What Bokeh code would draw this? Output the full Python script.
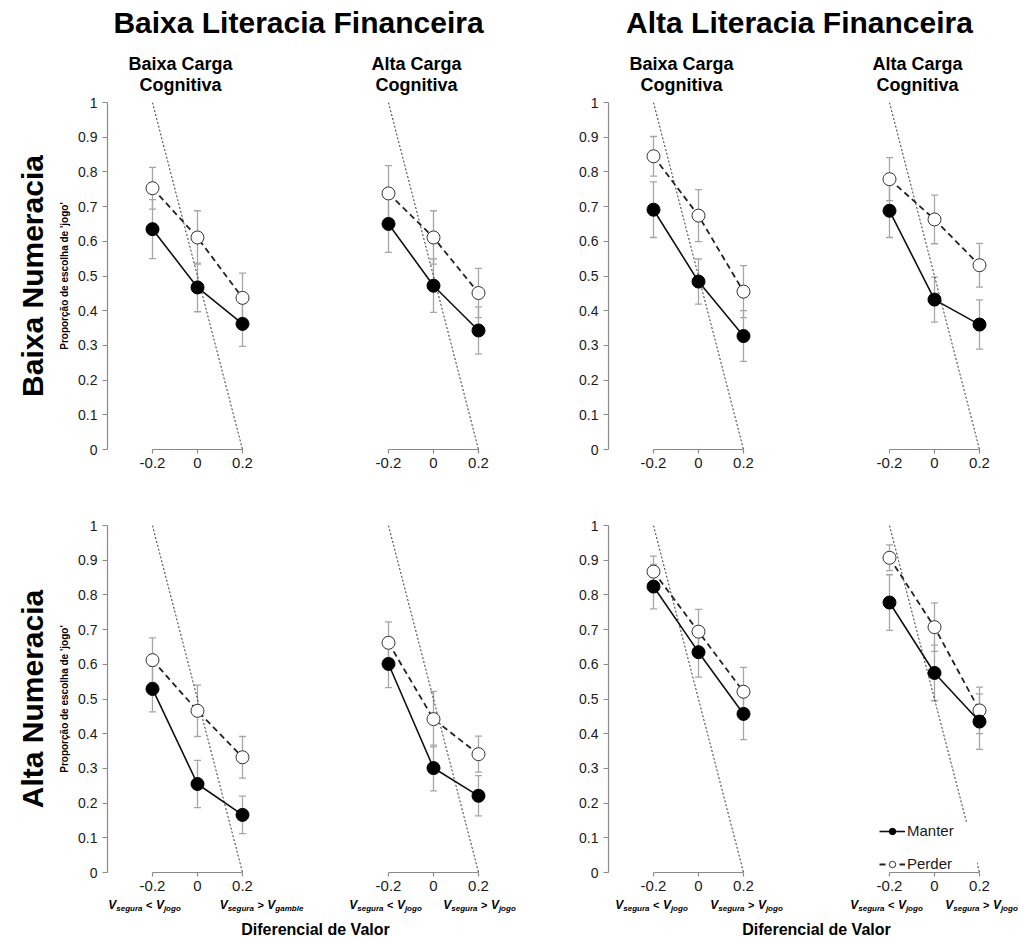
from bokeh.plotting import figure
from bokeh.models import (Range1d, FixedTicker, Whisker, TeeHead, ColumnDataSource,
                          Legend, LegendItem, Title)
from bokeh.layouts import column, row
from bokeh.core.properties import value
from bokeh.embed import file_html
from bokeh.resources import INLINE

# ---------------- data ----------------
x_levels = [-0.2, 0.0, 0.2]
x_tick_labels = ["-0.2", "0", "0.2"]
y_ticks = [0, 0.1, 0.2, 0.3, 0.4, 0.5, 0.6, 0.7, 0.8, 0.9, 1]
y_tick_labels = ["0", "0.1", "0.2", "0.3", "0.4", "0.5", "0.6", "0.7", "0.8", "0.9", "1"]
ref_x = [-0.2, 0.2]
ref_y = [1.0, 0.0]

lit_titles = ["Baixa Literacia Financeira", "Alta Literacia Financeira"]
carga_line1 = ["Baixa Carga", "Alta Carga"]
carga_line2 = ["Cognitiva", "Cognitiva"]
num_titles = ["Baixa Numeracia", "Alta Numeracia"]
series_names = ["Manter", "Perder"]
y_axis_title = "Proporção de escolha de 'jogo'"
x_axis_title = "Diferencial de Valor"

vlab_left_parts = ["V", "segura", "<", "V", "jogo"]
vlab_right_parts_first = ["V", "segura", ">", "V", "gamble"]
vlab_right_parts = ["V", "segura", ">", "V", "jogo"]
piece_kinds = ["main", "sub", "op", "main", "sub"]

# Baixa Numeracia row
manter_bn_bl_bc = [0.635, 0.467, 0.362]
manter_se_bn_bl_bc = [0.085, 0.070, 0.065]
perder_bn_bl_bc = [0.753, 0.611, 0.437]
perder_se_bn_bl_bc = [0.060, 0.077, 0.071]

manter_bn_bl_ac = [0.650, 0.472, 0.343]
manter_se_bn_bl_ac = [0.082, 0.077, 0.068]
perder_bn_bl_ac = [0.738, 0.611, 0.451]
perder_se_bn_bl_ac = [0.080, 0.077, 0.071]

manter_bn_al_bc = [0.691, 0.484, 0.327]
manter_se_bn_al_bc = [0.080, 0.065, 0.073]
perder_bn_al_bc = [0.845, 0.674, 0.455]
perder_se_bn_al_bc = [0.057, 0.075, 0.075]

manter_bn_al_ac = [0.688, 0.432, 0.360]
manter_se_bn_al_ac = [0.077, 0.065, 0.071]
perder_bn_al_ac = [0.779, 0.663, 0.531]
perder_se_bn_al_ac = [0.062, 0.070, 0.063]

# Alta Numeracia row
manter_an_bl_bc = [0.529, 0.255, 0.166]
manter_se_an_bl_bc = [0.066, 0.068, 0.054]
perder_an_bl_bc = [0.612, 0.466, 0.332]
perder_se_an_bl_bc = [0.064, 0.074, 0.060]

manter_an_bl_ac = [0.601, 0.301, 0.221]
manter_se_an_bl_ac = [0.068, 0.066, 0.058]
perder_an_bl_ac = [0.662, 0.442, 0.341]
perder_se_an_bl_ac = [0.060, 0.080, 0.052]

manter_an_al_bc = [0.824, 0.635, 0.457]
manter_se_an_al_bc = [0.064, 0.072, 0.074]
perder_an_al_bc = [0.867, 0.694, 0.521]
perder_se_an_al_bc = [0.045, 0.064, 0.070]

manter_an_al_ac = [0.778, 0.575, 0.435]
manter_se_an_al_ac = [0.080, 0.080, 0.080]
perder_an_al_ac = [0.907, 0.707, 0.467]
perder_se_an_al_ac = [0.037, 0.070, 0.067]

# ---------------- layout constants ----------------
SX = 225.0          # px per x unit
X0 = -0.4
FRAME_W = 146
FRAME_H = 347
X1 = X0 + FRAME_W / SX
BORDER_L = [107, 90, 89, 90]
BORDER_R = [0, 30, 0, 30]
BORDER_T = [6, 36]
BORDER_B = [40, 27]
HEADER_H = 96
FOOTER_H = 38
FONT = "Liberation Sans"
AXIS_GRAY = "#8a8a8a"
ERR_GRAY = "#a6a6a6"
LABEL_COLOR = "#1a1a1a"

frame_lefts = []
acc = 0
for c in range(4):
    frame_lefts.append(acc + BORDER_L[c])
    acc += BORDER_L[c] + FRAME_W + BORDER_R[c]
TOTAL_W = acc

CW = {" ": .278, "<": .584, ">": .584, "V": .667, "a": .556, "b": .611, "e": .556,
      "g": .611, "j": .278, "l": .278, "m": .889, "o": .611, "r": .389, "s": .556, "u": .611}
KIND_STYLE = {"main": (12, "bold italic", 0), "sub": (8, "bold italic", 4), "op": (11, "bold", 0)}
OP_PAD = 3.5
V_Y = 5
VSHIFT_LEFT = [-8, -3, -2, -3]
VSHIFT_RIGHT = [19, 1, 3, 2]


def style_axes(p, show_y, ylabel):
    xa = p.xaxis[0]
    xa.ticker = FixedTicker(ticks=x_levels)
    xa.major_label_overrides = {t: l for t, l in zip(x_levels, x_tick_labels)}
    xa.bounds = (x_levels[0], x_levels[-1])
    for ax in (p.xaxis[0], p.yaxis[0]):
        ax.axis_line_color = AXIS_GRAY
        ax.axis_line_width = 1.2
        ax.major_tick_line_color = AXIS_GRAY
        ax.major_tick_line_width = 1.2
        ax.major_tick_in = 0
        ax.major_tick_out = 5
        ax.minor_tick_line_color = None
        ax.major_label_text_font = FONT
        ax.major_label_text_color = LABEL_COLOR
    xa.major_tick_out = 4
    xa.major_label_text_font_size = "15px"
    xa.major_label_standoff = 4
    ya = p.yaxis[0]
    ya.ticker = FixedTicker(ticks=y_ticks)
    ya.major_label_overrides = {t: l for t, l in zip(y_ticks, y_tick_labels)}
    ya.bounds = (0, 1)
    ya.major_label_text_font_size = "14px"
    ya.major_label_standoff = 5
    if not show_y:
        ya.visible = False
    if ylabel:
        ya.axis_label = y_axis_title
        ya.axis_label_text_font = FONT
        ya.axis_label_text_font_size = "10px"
        ya.axis_label_text_font_style = "bold"
        ya.axis_label_text_color = "black"
        ya.axis_label_standoff = 5


def make_panel(ri, ci, m, mse, q, qse):
    p = figure(frame_width=FRAME_W, frame_height=FRAME_H,
               x_range=Range1d(X0, X1), y_range=Range1d(0, 1),
               output_backend="svg", toolbar_location=None, title_location=None,
               min_border_left=BORDER_L[ci], min_border_right=BORDER_R[ci],
               min_border_top=BORDER_T[ri], min_border_bottom=BORDER_B[ri],
               background_fill_color="white", border_fill_color="white")
    p.outline_line_color = None
    p.xgrid.visible = False
    p.ygrid.visible = False
    style_axes(p, show_y=(ci % 2 == 0), ylabel=(ci == 0))

    # diagonal reference
    p.line(ref_x, ref_y, line_color="#333333", line_width=1, line_dash="2 2")

    src_m = ColumnDataSource(dict(x=x_levels, y=m,
                                  lo=[a - b for a, b in zip(m, mse)],
                                  hi=[a + b for a, b in zip(m, mse)]))
    src_q = ColumnDataSource(dict(x=x_levels, y=q,
                                  lo=[a - b for a, b in zip(q, qse)],
                                  hi=[a + b for a, b in zip(q, qse)]))
    for src in (src_q, src_m):
        w = Whisker(source=src, base="x", upper="hi", lower="lo",
                    line_color=ERR_GRAY, line_width=1.3,
                    upper_head=TeeHead(size=7, line_color=ERR_GRAY, line_width=1.3),
                    lower_head=TeeHead(size=7, line_color=ERR_GRAY, line_width=1.3))
        p.add_layout(w)

    q_line = p.line("x", "y", source=src_q, line_color="#222222", line_width=1.8, line_dash="6 4")
    q_pts = p.scatter("x", "y", source=src_q, size=13, fill_color="white",
                      line_color="#333333", line_width=1)
    m_line = p.line("x", "y", source=src_m, line_color="#111111", line_width=1.6)
    m_pts = p.scatter("x", "y", source=src_m, size=13, fill_color="black", line_color="black")

    if ci == 0:
        p.add_layout(Title(text=num_titles[ri], align="center", text_font=FONT,
                           text_font_size="30px", text_font_style="bold",
                           text_color="black", standoff=16), "left")
    if ri == 1 and ci == 3:
        legend = Legend(items=[LegendItem(label=series_names[0], renderers=[m_line, m_pts]),
                               LegendItem(label=series_names[1], renderers=[q_line, q_pts])],
                        location=(35, 0), margin=0, padding=2, spacing=16,
                        glyph_width=26, glyph_height=16, label_height=16, label_width=70,
                        label_standoff=2, label_text_font=FONT,
                        label_text_font_size="15px", label_text_color=LABEL_COLOR,
                        border_line_color=None, background_fill_color="white",
                        background_fill_alpha=1.0)
        p.add_layout(legend)
    return p


def blank(width, height):
    p = figure(width=width, height=height, x_range=Range1d(0, width), y_range=Range1d(height, 0),
               output_backend="svg", toolbar_location=None, title_location=None,
               x_axis_type=None, y_axis_type=None, min_border=0,
               background_fill_color="white", border_fill_color="white")
    p.outline_line_color = None
    p.grid.visible = False
    return p


panel_data = [
    [(manter_bn_bl_bc, manter_se_bn_bl_bc, perder_bn_bl_bc, perder_se_bn_bl_bc),
     (manter_bn_bl_ac, manter_se_bn_bl_ac, perder_bn_bl_ac, perder_se_bn_bl_ac),
     (manter_bn_al_bc, manter_se_bn_al_bc, perder_bn_al_bc, perder_se_bn_al_bc),
     (manter_bn_al_ac, manter_se_bn_al_ac, perder_bn_al_ac, perder_se_bn_al_ac)],
    [(manter_an_bl_bc, manter_se_an_bl_bc, perder_an_bl_bc, perder_se_an_bl_bc),
     (manter_an_bl_ac, manter_se_an_bl_ac, perder_an_bl_ac, perder_se_an_bl_ac),
     (manter_an_al_bc, manter_se_an_al_bc, perder_an_al_bc, perder_se_an_al_bc),
     (manter_an_al_ac, manter_se_an_al_ac, perder_an_al_ac, perder_se_an_al_ac)],
]

rows = []
for ri in range(2):
    rows.append(row(*[make_panel(ri, ci, *panel_data[ri][ci]) for ci in range(4)]))

frame_centers = [fl + FRAME_W / 2 for fl in frame_lefts]


def data_to_px(ci, x):
    return frame_lefts[ci] + (x - X0) * SX


# ---------- header: literacy titles and cognitive-load subtitles ----------
header = blank(TOTAL_W, HEADER_H)
header.text(x=[(frame_centers[0] + frame_centers[1]) / 2, (frame_centers[2] + frame_centers[3]) / 2],
            y=[22, 22], text=lit_titles,
            text_align="center", text_baseline="middle", text_font=value(FONT),
            text_font_size="30px", text_font_style="bold", text_color="black")
header.text(x=frame_centers, y=[63] * 4, text=[carga_line1[c % 2] for c in range(4)],
            text_align="center", text_baseline="middle", text_font=value(FONT),
            text_font_size="18px", text_font_style="bold", text_color="black")
header.text(x=frame_centers, y=[84.5] * 4, text=[carga_line2[c % 2] for c in range(4)],
            text_align="center", text_baseline="middle", text_font=value(FONT),
            text_font_size="18px", text_font_style="bold", text_color="black")

# ---------- footer: V labels under the ticks and x-axis title ----------
footer = blank(TOTAL_W, FOOTER_H)
groups = {k: dict(x=[], y=[], text=[]) for k in KIND_STYLE}


def add_vlabel(ci, xval, parts, shift):
    widths = []
    for t, k in zip(parts, piece_kinds):
        w = sum(CW.get(ch, .6) for ch in t) * KIND_STYLE[k][0]
        if k == "op":
            w += 2 * OP_PAD
        widths.append(w)
    pos = data_to_px(ci, xval) - sum(widths) / 2 + shift
    for t, k, w in zip(parts, piece_kinds, widths):
        groups[k]["x"].append(pos + (OP_PAD if k == "op" else 0))
        groups[k]["y"].append(V_Y + KIND_STYLE[k][2])
        groups[k]["text"].append(t)
        pos += w


for ci in range(4):
    add_vlabel(ci, x_levels[0], vlab_left_parts, VSHIFT_LEFT[ci])
    add_vlabel(ci, x_levels[-1], vlab_right_parts_first if ci == 0 else vlab_right_parts,
               VSHIFT_RIGHT[ci])

for k, g in groups.items():
    size, style, _ = KIND_STYLE[k]
    footer.text(x=g["x"], y=g["y"], text=g["text"], text_align="left", text_baseline="middle",
                text_font=value(FONT), text_font_size=f"{size}px", text_font_style=style,
                text_color="black")

footer.text(x=[(data_to_px(0, 0) + data_to_px(1, 0)) / 2, (data_to_px(2, 0) + data_to_px(3, 0)) / 2],
            y=[30, 30], text=[x_axis_title, x_axis_title],
            text_align="center", text_baseline="middle", text_font=value(FONT),
            text_font_size="16px", text_font_style="bold", text_color="black")

layout = column(header, rows[0], rows[1], footer)

with open("out.html", "w") as f:
    f.write(file_html(layout, INLINE, title="Literacia Financeira"))
